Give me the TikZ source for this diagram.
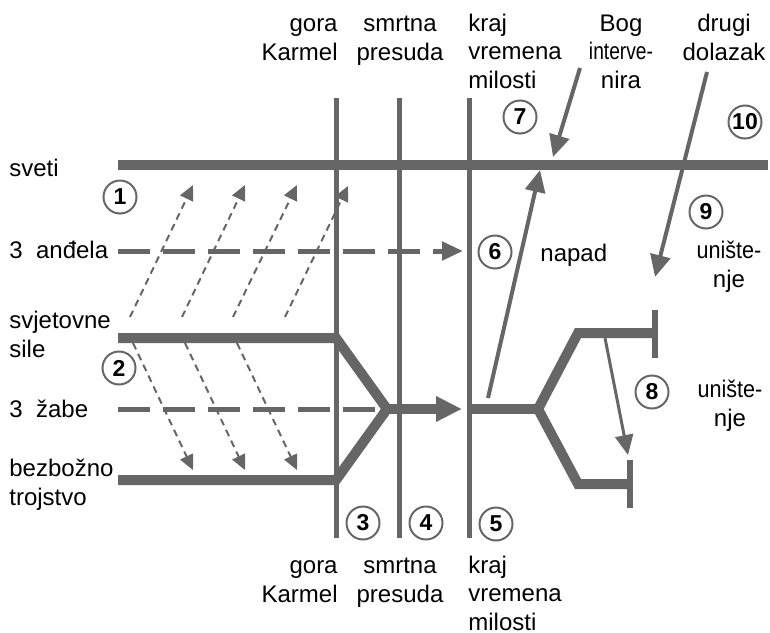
\documentclass[tikz,border=0pt]{standalone}
\usepackage{fontspec}
\usepackage{graphicx}
\setmainfont{Liberation Sans}
\usetikzlibrary{arrows.meta}
\definecolor{linegray}{RGB}{102,102,102}

\begin{document}
\begin{tikzpicture}[x=0.5pt,y=-0.5pt]
\tikzstyle{every node}+=[inner sep=0pt, font=\fontsize{12}{14.25}\selectfont]
\tikzstyle{numcircle}=[circle, draw=linegray, line width=1pt, minimum size=16.5pt, font=\fontsize{11.5}{12}\selectfont\bfseries]
\tikzstyle{heavy}=[linegray, line width=5pt]
\tikzstyle{timeline}=[linegray, line width=2.5pt]
\tikzstyle{message}=[linegray, line width=2.5pt, dash pattern=on 16pt off 6.5pt]
\tikzstyle{influence}=[linegray, line width=1pt, dash pattern=on 3.5pt off 2.5pt, -{Triangle[length=7.5pt,width=7pt]}]
\tikzstyle{action}=[linegray, line width=2pt, -{Triangle[length=11pt,width=10pt]}]
\useasboundingbox (0,0) rectangle (770,632);
% time lines
\coordinate (karmel-t) at (336,98);
\coordinate (karmel-b) at (336,538);
\coordinate (presuda-t) at (399,98);
\coordinate (presuda-b) at (399,538);
\coordinate (milost-t) at (469,98);
\coordinate (milost-b) at (469,538);
\draw [timeline] (karmel-t) -- (karmel-b);
\draw [timeline] (presuda-t) -- (presuda-b);
\draw [timeline] (milost-t) -- (milost-b);
% sveti
\coordinate (sveti-w) at (118,165);
\coordinate (sveti-e) at (768,165);
\draw [heavy] (sveti-w) -- (sveti-e);
% 3 andela
\coordinate (andjeli-w) at (118,251);
\coordinate (andjeli-e) at (463,251);
\draw [message, -{Triangle[length=10.5pt,width=9pt]}] (andjeli-w) -- (andjeli-e);
% svjetovne sile, bezbozno trojstvo, 3 zabe
\coordinate (sile-w) at (118,338);
\coordinate (sile-e) at (336,338);
\coordinate (trojstvo-w) at (118,480);
\coordinate (trojstvo-e) at (336,480);
\coordinate (savez) at (387,409);
\coordinate (savez-tip) at (462,409);
\coordinate (zabe-w) at (118,409);
\coordinate (zabe-e) at (375,409);
\draw [message] (zabe-w) -- (zabe-e);
\draw [heavy] (sile-w) -- (sile-e) -- (savez) -- (trojstvo-e) -- (trojstvo-w);
\draw [heavy, -{Triangle[length=13pt,width=12pt]}] (savez) -- (savez-tip);
% after the end of probation
\coordinate (milost-m) at (469,409);
\coordinate (fork) at (538,409);
\coordinate (gore-k) at (578,333);
\coordinate (gore-e) at (655,333);
\coordinate (dolje-k) at (578,484);
\coordinate (dolje-e) at (630,484);
\coordinate (gore-bt) at (655,310);
\coordinate (gore-bb) at (655,358);
\coordinate (dolje-bt) at (630,460);
\coordinate (dolje-bb) at (630,508);
\draw [heavy] (milost-m) -- (fork);
\draw [heavy] (gore-e) -- (gore-k) -- (fork) -- (dolje-k) -- (dolje-e);
\draw [timeline, line width=3pt] (gore-bt) -- (gore-bb);
\draw [timeline, line width=3pt] (dolje-bt) -- (dolje-bb);
% napad, Bog intervenira, drugi dolazak
\coordinate (napad-s) at (488,398);
\coordinate (napad-e) at (540,170);
\coordinate (bog-s) at (580,68);
\coordinate (bog-e) at (553,157);
\coordinate (dolazak-s) at (707,72);
\coordinate (dolazak-e) at (655,277);
\coordinate (pad-s) at (605,338);
\coordinate (pad-e) at (628,455);
\draw [action] (napad-s) -- (napad-e);
\draw [action] (bog-s) -- (bog-e);
\draw [action] (dolazak-s) -- (dolazak-e);
\draw [action, line width=1.5pt, -{Triangle[length=10pt,width=9pt]}] (pad-s) -- (pad-e);
% influence arrows
\coordinate (a1s) at (130,317);
\coordinate (a1e) at (193,185);
\coordinate (a2s) at (182,317);
\coordinate (a2e) at (245,185);
\coordinate (a3s) at (233,317);
\coordinate (a3e) at (297,185);
\coordinate (a4s) at (285,317);
\coordinate (a4e) at (348,186);
\draw [influence] (a1s) -- (a1e);
\draw [influence] (a2s) -- (a2e);
\draw [influence] (a3s) -- (a3e);
\draw [influence] (a4s) -- (a4e);
\coordinate (b1s) at (133,343);
\coordinate (b1e) at (193,470);
\coordinate (b2s) at (185,343);
\coordinate (b2e) at (245,470);
\coordinate (b3s) at (237,343);
\coordinate (b3e) at (297,470);
\draw [influence] (b1s) -- (b1e);
\draw [influence] (b2s) -- (b2e);
\draw [influence] (b3s) -- (b3e);
% labels (base = last line)
\node (t-karmel) [anchor=base east, align=right] at (338,60) {gora\\Karmel};
\node (t-presuda) [anchor=base, align=center] at (400,60) {smrtna\\presuda};
\node (t-milost) [anchor=base west, align=left] at (468,88) {kraj\\vremena\\milosti};
\node (t-bog) [anchor=base, align=center] at (621,88) {Bog\\\scalebox{0.8}[1]{interve-}\\nira};
\node (t-dolazak) [anchor=base, align=center] at (724,60) {drugi\\dolazak};
\node (b-karmel) [anchor=base east, align=right] at (338,602) {gora\\Karmel};
\node (b-presuda) [anchor=base, align=center] at (400,602) {smrtna\\presuda};
\node (b-milost) [anchor=base west, align=left] at (468,630) {kraj\\vremena\\milosti};
\node (l-sveti) [anchor=base west] at (9,176) {sveti};
\node (l-andjeli) [anchor=base west] at (9,258) {3\ \ anđela};
\node (l-sile) [anchor=base west, align=left] at (9,357) {svjetovne\\sile};
\node (l-zabe) [anchor=base west] at (9,417) {3\ \ žabe};
\node (l-trojstvo) [anchor=base west, align=left] at (9,505) {bezbožno\\trojstvo};
\node (r-napad) [anchor=base west] at (540,261) {napad};
\node (r-unist1) [anchor=base, align=center] at (729,287) {\scalebox{0.9}[1]{unište-}\\nje};
\node (r-unist2) [anchor=base, align=center] at (730,426) {\scalebox{0.9}[1]{unište-}\\nje};
% numbers
\node (n1) [numcircle] at (120,197) {1};
\node (n2) [numcircle] at (119,368) {2};
\node (n3) [numcircle] at (363,523) {3};
\node (n4) [numcircle] at (426,523) {4};
\node (n5) [numcircle] at (496,524) {5};
\node (n6) [numcircle] at (495,252) {6};
\node (n7) [numcircle] at (520,117) {7};
\node (n8) [numcircle] at (652,392) {8};
\node (n9) [numcircle] at (706,212) {9};
\node (n10) [numcircle] at (745,122) {10};
\end{tikzpicture}
\end{document}
